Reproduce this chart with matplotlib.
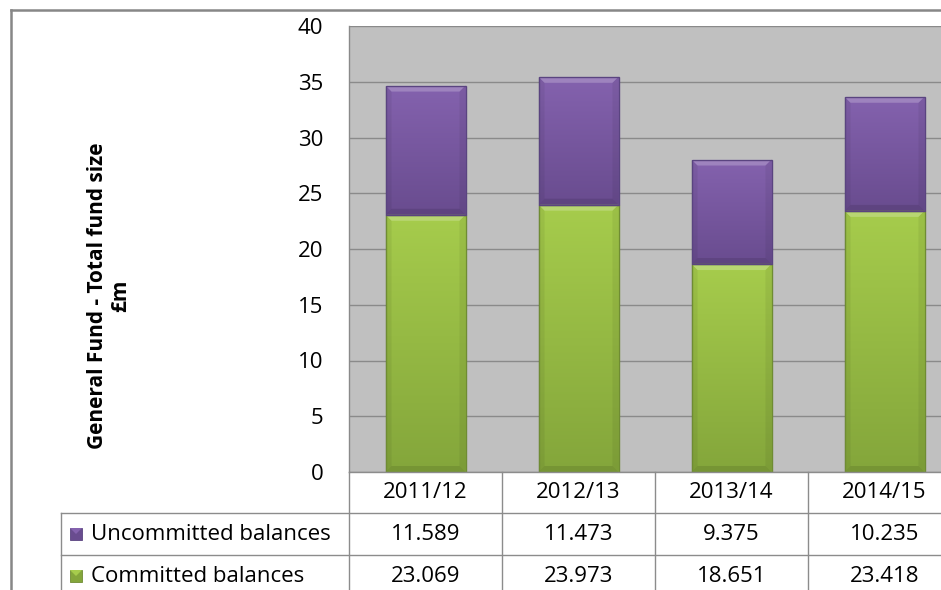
import numpy as np
import matplotlib

matplotlib.use("Agg")
import matplotlib.pyplot as plt
import matplotlib.patches as mpatches
from matplotlib.lines import Line2D

plt.rcParams["font.family"] = ["Open Sans", "DejaVu Sans"]

years = ["2011/12", "2012/13", "2013/14", "2014/15"]
committed = [23.069, 23.973, 18.651, 23.418]
uncommitted = [11.589, 11.473, 9.375, 10.235]
series_names = ["Uncommitted balances", "Committed balances"]

y_max = 40
y_step = 5

# gradient colours (top, bottom) for each series
GREEN = ("#a6cc4c", "#84a63b")
PURPLE = ("#8462ae", "#694c8f")
EDGE_GREEN = "#6f8c33"
EDGE_PURPLE = "#5a4480"
GRID = "#8a8a8a"
TABLE_LINE = "#8c8c8c"

W, H = 941, 590
fig = plt.figure(figsize=(W / 100, H / 100), dpi=100)
fig.patch.set_facecolor("white")


def fx(x):
    return x / W


def fy(y):
    return 1 - y / H


# plot area in pixels: left 349, top 26, bottom 472, 153 px per category
left, top, bottom, col_w = 349, 26, 472, 153
ax = fig.add_axes([fx(left), fy(bottom), fx(col_w * len(years)), (bottom - top) / H])
ax.set_facecolor("#c0c0c0")
x = np.arange(len(years))
bar_w = 80 / col_w


def hex_rgb(c):
    c = c.lstrip("#")
    return np.array([int(c[i:i + 2], 16) / 255 for i in (0, 2, 4)])


def gradient_bars(bars, colours, edge):
    c_top, c_bot = hex_rgb(colours[0]), hex_rgb(colours[1])
    t = np.linspace(0, 1, 64)[:, None]
    img = (c_top * (1 - t) + c_bot * t)[:, None, :]
    img = np.repeat(img, 2, axis=1)
    dx = 6 / col_w
    dy = 6 / ((bottom - top) / y_max)
    for p in bars:
        x0, y0, w, h = p.get_x(), p.get_y(), p.get_width(), p.get_height()
        im = ax.imshow(img, extent=[x0, x0 + w, y0, y0 + h], aspect="auto",
                       origin="upper", zorder=2, interpolation="bilinear")
        im.set_clip_path(p)
        x1, y1 = x0 + w, y0 + h
        # bevel: light top, darker sides and bottom
        ax.add_patch(mpatches.Polygon([(x0, y1), (x1, y1), (x1 - dx, y1 - dy), (x0 + dx, y1 - dy)],
                                      closed=True, facecolor="white", alpha=0.22, lw=0, zorder=3))
        ax.add_patch(mpatches.Polygon([(x0, y0), (x1, y0), (x1 - dx, y0 + dy), (x0 + dx, y0 + dy)],
                                      closed=True, facecolor="black", alpha=0.10, lw=0, zorder=3))
        for xa, xb in ((x0, x0 + dx), (x1, x1 - dx)):
            ax.add_patch(mpatches.Polygon([(xa, y0), (xa, y1), (xb, y1 - dy), (xb, y0 + dy)],
                                          closed=True, facecolor="black", alpha=0.06, lw=0, zorder=3))
        ax.add_patch(mpatches.Rectangle((x0, y0), w, h, facecolor="none", edgecolor=edge,
                                        lw=1.0, zorder=4))


b_com = ax.bar(x, committed, bar_w, color="none", zorder=2)
b_unc = ax.bar(x, uncommitted, bar_w, bottom=committed, color="none", zorder=2)
gradient_bars(b_com, GREEN, EDGE_GREEN)
gradient_bars(b_unc, PURPLE, EDGE_PURPLE)

ax.set_xlim(-0.5, len(years) - 0.5)
ax.set_ylim(0, y_max)
ax.set_yticks(np.arange(0, y_max + 1, y_step))
ax.yaxis.grid(True, color=GRID, lw=1.0, zorder=1)
ax.set_axisbelow(True)
ax.tick_params(axis="y", length=0, pad=18.5, labelsize=16)
ax.set_xticks([])
for s in ("top", "right", "bottom"):
    ax.spines[s].set_visible(False)
ax.spines["left"].set_color(GRID)
ax.spines["left"].set_linewidth(1.0)

# data table under the plot area
row_edges = [472, 513, 555, 597]
right_edge = left + col_w * len(years)
for yy in row_edges[1:]:
    fig.add_artist(Line2D([fx(61), fx(right_edge)], [fy(yy), fy(yy)], color=TABLE_LINE, lw=1.0))
fig.add_artist(Line2D([fx(left), fx(right_edge)], [fy(472), fy(472)], color=TABLE_LINE, lw=1.0))
fig.add_artist(Line2D([fx(61), fx(61)], [fy(513), fy(597)], color=TABLE_LINE, lw=1.0))
for i in range(len(years) + 1):
    xx = left + i * col_w
    fig.add_artist(Line2D([fx(xx), fx(xx)], [fy(472), fy(597)], color=TABLE_LINE, lw=1.0))

row_mid = [(a + b) / 2 for a, b in zip(row_edges[:-1], row_edges[1:])]
fs = 16
for i, yr in enumerate(years):
    cx = left + (i + 0.5) * col_w
    fig.text(fx(cx), fy(row_mid[0]), yr, ha="center", va="center", fontsize=fs)
    fig.text(fx(cx), fy(row_mid[1]), f"{uncommitted[i]:.3f}", ha="center", va="center", fontsize=fs)
    fig.text(fx(cx), fy(row_mid[2]), f"{committed[i]:.3f}", ha="center", va="center", fontsize=fs)

for name, cols, edge, ym in ((series_names[0], PURPLE, EDGE_PURPLE, row_mid[1]),
                             (series_names[1], GREEN, EDGE_GREEN, row_mid[2])):
    sq = 12
    fig.add_artist(mpatches.Rectangle((fx(70), fy(ym + sq / 2)), sq / W, sq / H,
                                      facecolor=cols[1], edgecolor=edge, lw=0.6))
    fig.add_artist(mpatches.Polygon([(fx(70), fy(ym - sq / 2)), (fx(70 + sq), fy(ym - sq / 2)),
                                     (fx(70 + sq / 2), fy(ym))], closed=True,
                                    facecolor=cols[0], lw=0))
    fig.text(fx(91), fy(ym), name, ha="left", va="center", fontsize=fs)

fig.text(fx(109), fy(296), "General Fund - Total fund size\n£m", rotation=90,
         ha="center", va="center", fontsize=15, fontweight="bold", linespacing=1.15,
         multialignment="center")

# outer chart border
fig.add_artist(Line2D([fx(11), fx(W + 5)], [fy(9.5), fy(9.5)], color="#878787", lw=1.8))
fig.add_artist(Line2D([fx(11), fx(11)], [fy(9.5), fy(H + 5)], color="#878787", lw=1.8))

fig.savefig("out.png", dpi=100, facecolor="white")
